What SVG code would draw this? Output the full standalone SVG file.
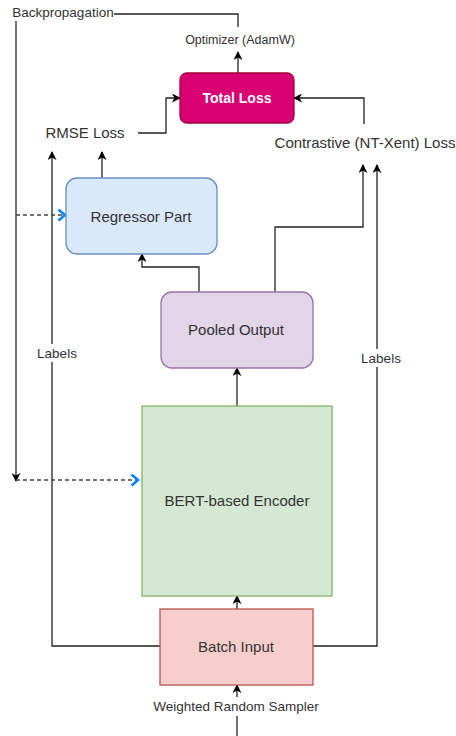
<svg xmlns="http://www.w3.org/2000/svg" width="456" height="736" viewBox="0 0 456 736">
<defs>
<marker id="arr" viewBox="0 0 10 10" refX="9" refY="5" markerWidth="9" markerHeight="9" markerUnits="userSpaceOnUse" orient="auto">
<path d="M0,0 L10,5 L0,10 L3,5 z" fill="#000"/>
</marker>
<marker id="chev" viewBox="0 0 10 10" refX="8" refY="5" markerWidth="13" markerHeight="13" markerUnits="userSpaceOnUse" orient="auto">
<path d="M3,0.8 L8,5 L3,9.2" fill="none" stroke="#007FFF" stroke-width="1.9"/>
</marker>
</defs>
<style>
text{font-family:"Liberation Sans",Arial,sans-serif;fill:#333;text-anchor:middle;dominant-baseline:central}
.box{font-size:15px}
.lbl{font-size:15px}
.sm{font-size:13.5px}
.c{fill:none;stroke:#222;stroke-width:1.3}
.a{marker-end:url(#arr)}
.d{stroke:#444;stroke-dasharray:4 3;marker-end:url(#chev)}
</style>
<rect width="456" height="736" fill="#fff"/>
<g id="connectors">
<polyline class="c" points="114,14 238,14 238,27"/>
<polyline class="c a" points="238,73 238,52"/>
<polyline class="c a" points="138,133 166,133 166,98 180,98"/>
<polyline class="c a" points="364,124 364,98 294,98"/>
<polyline class="c a" points="102,178 102,152"/>
<polyline class="c a" points="160,646 52,646 52,152"/>
<polyline class="c a" points="199,292 199,267 142,267 142,254"/>
<polyline class="c a" points="275,292 275,227 363,227 363,165"/>
<polyline class="c a" points="313,646 377,646 377,165"/>
<polyline class="c a" points="237,406 237,368"/>
<polyline class="c a" points="237,609 237,596"/>
<polyline class="c a" points="237,697 237,685"/>
<polyline class="c" points="237,716 237,736"/>
<polyline class="c a" points="16,21 16,481"/>
<polyline class="c d" points="16,215 65,215"/>
<polyline class="c d" points="16,480 138,480"/>
<rect x="34" y="344" width="46" height="18" fill="#fff"/>
<text class="sm" x="57" y="353">Labels</text>
<rect x="358" y="349" width="46" height="18" fill="#fff"/>
<text class="sm" x="381" y="358">Labels</text>
</g>
<g id="backprop"><text class="sm" x="63" y="12">Backpropagation</text></g>
<g id="optimizer"><text x="240" y="40" style="font-size:12.5px">Optimizer (AdamW)</text></g>
<g id="total-loss">
<rect x="180" y="73" width="114" height="50" rx="7" fill="#d80073" stroke="#a50040" stroke-width="1.3"/>
<text x="237" y="98" style="font-size:14px;font-weight:bold;fill:#fff">Total Loss</text>
</g>
<g id="rmse-loss"><text class="lbl" x="85" y="132">RMSE Loss</text></g>
<g id="contrastive-loss"><text class="lbl" x="365" y="142">Contrastive (NT-Xent) Loss</text></g>
<g id="regressor">
<rect x="66" y="178" width="151" height="76" rx="11" fill="#dae8fc" stroke="#6c8ebf" stroke-width="1.3"/>
<text class="box" x="141" y="216">Regressor Part</text>
</g>
<g id="pooled">
<rect x="161" y="292" width="152" height="76" rx="11" fill="#e1d5e7" stroke="#9673a6" stroke-width="1.3"/>
<text class="box" x="236" y="329">Pooled Output</text>
</g>
<g id="encoder">
<rect x="142" y="406" width="190" height="190" fill="#d5e8d4" stroke="#82b366" stroke-width="1.3"/>
<text class="box" x="237" y="500">BERT-based Encoder</text>
</g>
<g id="batch">
<rect x="160" y="609" width="153" height="76" fill="#f8cecc" stroke="#b85450" stroke-width="1.3"/>
<text class="box" x="236" y="646">Batch Input</text>
</g>
<g id="sampler"><text class="sm" x="236" y="706">Weighted Random Sampler</text></g>
</svg>
